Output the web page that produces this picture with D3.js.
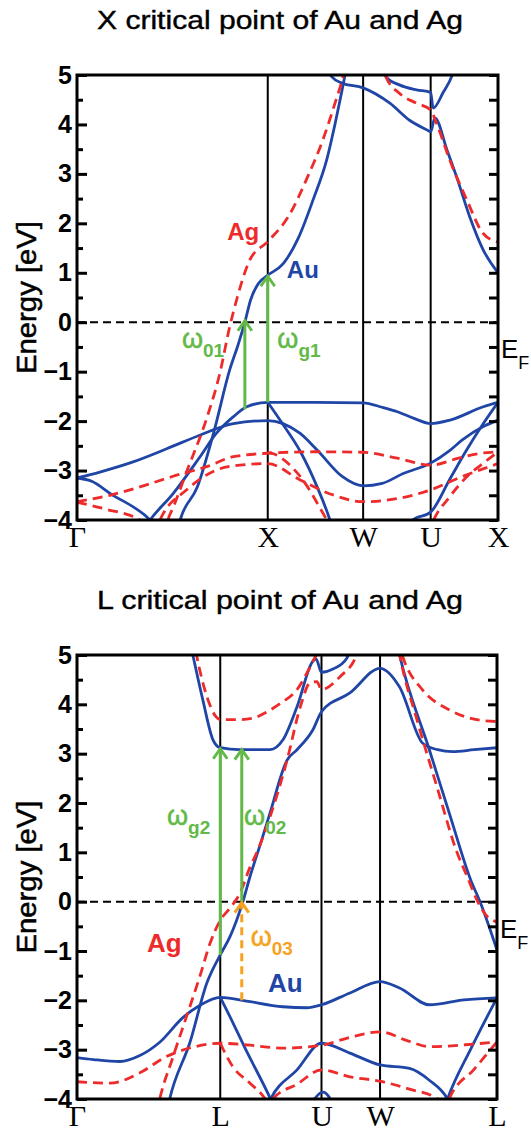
<!DOCTYPE html>
<html><head><meta charset="utf-8">
<script src="https://cdn.jsdelivr.net/npm/d3@7"></script>
<style>body{margin:0;background:#fff} svg{display:block}</style>
</head><body>
<svg id="c" width="531" height="1131"></svg>
<script>
// ---------- data ----------
const yTicks = [-4,-3,-2,-1,0,1,2,3,4,5];
const yMinorTicks = [-3.5,-2.5,-1.5,-0.5,0.5,1.5,2.5,3.5,4.5];
const topTitle = "X critical point of Au and Ag";
const botTitle = "L critical point of Au and Ag";
const topKLabels = ["Γ","X","W","U","X"];
const topKPos = [0,1,1.5,1.854,2.207];
const botKLabels = ["Γ","L","U","W","L"];
const botKPos = [0,0.866,1.478,1.832,2.539];

// top panel, Au (solid blue)
const topAuA = [[0,-3.15],[0.12,-3.03],[0.29,-2.83],[0.47,-2.56],[0.64,-2.29],[0.82,-2.05],[1.0,-1.99],[1.08,-2.05],[1.17,-2.25],[1.26,-2.59],[1.39,-3.12],[1.5,-3.31],[1.6,-3.26],[1.71,-3.06],[1.854,-2.85],[1.955,-2.59],[2.02,-2.38],[2.13,-2.11],[2.207,-1.98]];
const topAuGd = [[0,-3.15],[0.08,-3.22],[0.173,-3.46],[0.383,-4.0],[0.45,-4.3]];
const topAuB = [[0.33,-4.3],[0.383,-4.0],[0.505,-3.46],[0.645,-2.72],[0.73,-2.25],[0.82,-1.91],[0.89,-1.71],[1.0,-1.62],[1.25,-1.62],[1.5,-1.63],[1.6,-1.72],[1.68,-1.81],[1.77,-1.95],[1.854,-2.05],[1.955,-1.98],[2.13,-1.71],[2.207,-1.62]];
const topAuC = [[0.52,-4.3],[0.545,-3.95],[0.63,-3.34],[0.72,-2.18],[0.80,-0.97],[0.845,-0.45],[0.88,0.0],[0.91,0.45],[0.95,0.78],[1.0,0.95],[1.08,1.18],[1.16,1.7],[1.24,2.5],[1.31,3.3],[1.355,4.05],[1.39,4.7],[1.415,5.2],[1.43,5.5]];
const topAuD = [[1.30,5.3],[1.336,4.96],[1.387,4.84],[1.5,4.74],[1.64,4.43],[1.745,4.08],[1.834,3.89],[1.854,3.85],[1.876,4.13],[1.94,3.48],[1.99,2.94],[2.06,2.12],[2.13,1.46],[2.207,1.0]];
const topAuF = [[1.60,5.3],[1.62,4.96],[1.69,4.8],[1.78,4.7],[1.854,4.65],[1.867,4.33],[1.92,4.65],[1.97,5.03],[1.99,5.3]];
const topAuG = [[1.0,-1.62],[1.08,-2.07],[1.17,-2.61],[1.26,-3.34],[1.326,-4.0],[1.35,-4.3]];
const topAuH = [[1.74,-4.2],[1.76,-4.0],[1.854,-3.84],[1.955,-3.17],[2.04,-2.6],[2.13,-2.05],[2.207,-1.62]];

// top panel, Ag (dashed red)
const topAgSp = [[0.46,-4.3],[0.477,-4.0],[0.504,-3.75],[0.577,-3.0],[0.681,-1.93],[0.749,-1.03],[0.80,-0.1],[0.84,0.5],[0.906,1.26],[1.0,1.63],[1.11,2.15],[1.21,2.95],[1.29,3.7],[1.35,4.4],[1.394,4.96],[1.42,5.4]];
const topAg1 = [[0,-3.63],[0.173,-3.5],[0.33,-3.33],[0.50,-3.12],[0.68,-2.92],[0.82,-2.72],[1.0,-2.65],[1.25,-2.62],[1.5,-2.63],[1.68,-2.75],[1.854,-2.89],[2.0,-2.75],[2.1,-2.66],[2.207,-2.62]];
const topAg2 = [[0.41,-4.3],[0.435,-4.0],[0.575,-3.39],[0.73,-2.99],[0.854,-2.89],[1.0,-2.86],[1.17,-3.19],[1.34,-3.49],[1.5,-3.63],[1.69,-3.56],[1.854,-3.39],[2.02,-3.12],[2.207,-2.86]];
const topAgGd = [[0,-3.64],[0.15,-3.78],[0.33,-4.0],[0.4,-4.2]];
const topAgXd = [[1.0,-2.63],[1.03,-2.66],[1.17,-3.12],[1.31,-4.0],[1.34,-4.2]];
const topAgUx = [[1.84,-4.3],[1.87,-4.0],[1.95,-3.55],[2.05,-3.1],[2.13,-2.85],[2.207,-2.62]];
const topAgUp = [[1.60,5.3],[1.62,4.96],[1.69,4.63],[1.78,4.43],[1.854,4.29],[1.887,4.0],[1.955,3.27],[2.044,2.47],[2.128,1.8],[2.207,1.62]];

// bottom panel, Au
const botAuD1 = [[0,-3.16],[0.1,-3.2],[0.26,-3.24],[0.38,-3.12],[0.50,-2.85],[0.64,-2.35],[0.744,-2.1],[0.866,-1.94],[1.0,-2.0],[1.245,-2.13],[1.39,-2.15],[1.478,-2.09],[1.65,-1.85],[1.832,-1.62],[1.95,-1.75],[2.13,-2.09],[2.34,-1.99],[2.539,-1.95]];
const botAuLd = [[0.866,-1.94],[0.92,-2.3],[1.016,-2.97],[1.17,-4.0],[1.21,-4.3]];
const botAuToU = [[1.13,-4.3],[1.17,-4.0],[1.33,-3.41],[1.478,-2.87],[1.65,-3.07],[1.832,-3.31],[2.01,-3.38],[2.13,-3.62],[2.24,-4.0],[2.27,-4.2]];
const botAuLu = [[2.21,-4.3],[2.24,-4.0],[2.38,-2.99],[2.539,-1.95]];
const botAuUb = [[1.40,-4.2],[1.44,-3.98],[1.487,-3.86],[1.52,-3.94],[1.56,-4.2]];
const botAuSp = [[0.54,-4.3],[0.56,-4.0],[0.683,-2.85],[0.785,-1.65],[0.866,-1.08],[0.925,-0.71],[1.0,-0.03],[1.046,0.51],[1.107,1.15],[1.167,1.8],[1.27,2.87],[1.33,3.08],[1.427,3.49],[1.478,3.85],[1.65,4.23],[1.832,4.73],[1.95,4.35],[2.09,3.21],[2.18,3.08],[2.27,3.04],[2.4,3.08],[2.539,3.12]];
const botAuUp1 = [[0.68,5.3],[0.70,5.0],[0.76,4.1],[0.822,3.28],[0.866,3.12],[0.985,3.08],[1.167,3.08],[1.245,3.28],[1.33,3.95],[1.427,4.88],[1.445,4.92],[1.478,4.65],[1.55,4.72],[1.63,4.93],[1.66,5.2]];
const botAuSteep = [[1.93,5.3],[1.95,5.0],[2.13,3.08],[2.25,1.8],[2.38,0.44],[2.44,-0.03],[2.539,-0.98]];

// bottom panel, Ag
const botAgD1 = [[0,-3.65],[0.2,-3.68],[0.38,-3.47],[0.54,-3.14],[0.70,-2.95],[0.866,-2.87],[1.046,-2.91],[1.245,-2.97],[1.478,-2.91],[1.65,-2.75],[1.832,-2.64],[2.0,-2.82],[2.13,-2.94],[2.35,-2.9],[2.539,-2.84]];
const botAgLd = [[0.866,-2.87],[0.943,-3.35],[1.046,-3.68],[1.137,-4.0],[1.17,-4.2]];
const botAgToU = [[1.15,-4.3],[1.185,-4.0],[1.33,-3.7],[1.478,-3.41],[1.65,-3.55],[1.832,-3.64],[2.01,-3.8],[2.18,-4.0],[2.21,-4.2]];
const botAgLu = [[2.22,-4.3],[2.25,-4.0],[2.4,-3.4],[2.539,-2.84]];
const botAgSp = [[0.48,-4.3],[0.50,-4.0],[0.58,-3.15],[0.665,-2.3],[0.744,-1.5],[0.804,-0.85],[0.866,-0.38],[0.925,-0.13],[0.985,0.17],[1.046,0.7],[1.094,1.05],[1.167,1.72],[1.27,2.87],[1.35,3.95],[1.41,4.44],[1.45,4.46],[1.478,4.3],[1.59,4.56],[1.69,5.0],[1.72,5.3]];
const botAgUp1 = [[0.70,5.4],[0.725,4.96],[0.786,4.15],[0.84,3.75],[0.866,3.69],[0.985,3.69],[1.066,3.72],[1.15,3.85],[1.23,4.02],[1.33,4.3],[1.427,4.88],[1.46,5.1],[1.48,5.3]];
const botAgUp2 = [[1.94,5.3],[1.97,4.96],[2.09,4.29],[2.25,3.89],[2.4,3.7],[2.539,3.65]];
const botAgSteep = [[1.93,5.4],[1.953,4.97],[2.055,3.69],[2.176,2.33],[2.297,1.0],[2.36,0.5],[2.418,0.03],[2.48,-0.3],[2.539,-0.41]];

// transitions (k, from E, to E)
const topArrows = [[0.88,-1.76,0.05],[1.0,-1.62,0.95]];
const botArrows = [[0.866,-1.08,3.12],[0.996,0.0,3.1]];
const botDashedArrows = [[0.996,-2.0,0.0]];

// annotations: [text, subscript, k, E]
const topOmega = [["ω","01",0.55,-0.52],["ω","g1",1.05,-0.52]];
const botOmega = [["ω","g2",0.544,1.56],["ω","02",1.01,1.56]];
const botOmegaOrange = [["ω","03",1.05,-0.9]];
const topNames = [["Ag",0.955,1.66,"end"],["Au",1.10,0.89,"start"]];
const botNames = [["Ag",0.423,-1.02,"start"],["Au",1.155,-1.83,"start"]];

// ---------- drawing ----------
const RED="#ee2b2b", BLUE="#1f45a6", GREEN="#62b947", ORANGE="#f6a21e";
const FONT = "'Liberation Sans', Arial, sans-serif";
const svg = d3.select("#c");
const defs = svg.append("defs");

function panel(o){
  const x = d3.scaleLinear().domain([0, o.kPos[o.kPos.length-1]]).range([o.left,o.right]);
  const y = d3.scaleLinear().domain([-4,5]).range([o.bottom,o.top]);
  const g = svg.append("g");
  defs.append("clipPath").attr("id",o.id).append("rect")
    .attr("x",o.left).attr("y",o.top).attr("width",o.right-o.left).attr("height",o.bottom-o.top);

  // title
  svg.append("text").attr("x",o.titleX).attr("y",o.titleY).attr("text-anchor","middle")
    .attr("font-family",FONT).attr("font-size",26).attr("stroke","#000").attr("stroke-width",0.4)
    .attr("textLength",366).attr("lengthAdjust","spacingAndGlyphs")
    .text(o.title);
  // y-axis title
  svg.append("text").attr("transform",`translate(36,${(o.top+o.bottom)/2}) rotate(-90)`)
    .attr("text-anchor","middle").attr("font-family",FONT).attr("font-size",28)
    .attr("stroke","#000").attr("stroke-width",0.5)
    .attr("textLength",153).attr("lengthAdjust","spacingAndGlyphs").text("Energy [eV]");

  // high symmetry lines
  g.selectAll("line.v").data(o.kPos.slice(1,-1)).join("line").attr("class","v")
    .attr("x1",d=>x(d)).attr("x2",d=>x(d)).attr("y1",o.top).attr("y2",o.bottom)
    .attr("stroke","#000").attr("stroke-width",2);
  // Fermi level
  g.append("line").attr("x1",o.left).attr("x2",o.right).attr("y1",y(0)).attr("y2",y(0))
    .attr("stroke","#000").attr("stroke-width",2).attr("stroke-dasharray","8,5");

  const line = d3.line().x(d=>x(d[0])).y(d=>y(d[1])).curve(d3.curveMonotoneX);
  const bands = g.append("g").attr("clip-path",`url(#${o.id})`);
  bands.selectAll("path.au").data(o.au).join("path").attr("class","au").attr("d",line)
    .attr("fill","none").attr("stroke",BLUE).attr("stroke-width",2.8).attr("stroke-linejoin","round");
  bands.selectAll("path.ag").data(o.ag).join("path").attr("class","ag").attr("d",line)
    .attr("fill","none").attr("stroke",RED).attr("stroke-width",2.8).attr("stroke-dasharray","10,6");

  // arrows
  function arrow(a, color, dashed){
    const xx = x(a[0]), y0 = y(a[1]), y1 = y(a[2]);
    g.append("line").attr("x1",xx).attr("x2",xx).attr("y1",y0).attr("y2",y1+2)
      .attr("stroke",color).attr("stroke-width",3).attr("stroke-dasharray",dashed?"8,5":null);
    g.append("path").attr("d",`M${xx-7},${y1+11}L${xx},${y1+1}L${xx+7},${y1+11}`)
      .attr("fill","none").attr("stroke",color).attr("stroke-width",3).attr("stroke-linejoin","miter");
  }
  o.arrows.forEach(a=>arrow(a,GREEN,false));
  (o.dashedArrows||[]).forEach(a=>arrow(a,ORANGE,true));

  // omega labels
  function omega(d, color){
    const t = g.append("text").attr("x",x(d[2])).attr("y",y(d[3])).attr("fill",color)
      .attr("font-family",FONT);
    t.append("tspan").attr("font-size",27).attr("stroke",color).attr("stroke-width",0.5).text(d[0]);
    t.append("tspan").attr("font-size",19).attr("font-weight","bold").attr("dy",9).text(d[1]);
  }
  o.omega.forEach(d=>omega(d,GREEN));
  (o.omegaOrange||[]).forEach(d=>omega(d,ORANGE));

  // element names
  g.selectAll("text.nm").data(o.names).join("text").attr("class","nm")
    .attr("x",d=>x(d[1])).attr("y",d=>y(d[2])).attr("text-anchor",d=>d[3])
    .attr("fill",d=>d[0]==="Ag"?RED:BLUE).attr("font-family",FONT).attr("font-weight","bold")
    .attr("font-size",o.nameSize).text(d=>d[0]);

  // E_F
  const ef = g.append("text").attr("x",o.right+3).attr("y",y(0)+36).attr("font-family",FONT);
  ef.append("tspan").attr("font-size",26).text("E");
  ef.append("tspan").attr("font-size",18).attr("dy",11).text("F");

  // frame
  g.append("rect").attr("x",o.left).attr("y",o.top).attr("width",o.right-o.left).attr("height",o.bottom-o.top)
    .attr("fill","none").attr("stroke","#000").attr("stroke-width",3);

  // axes
  const styleTicks = s => { s.select(".domain").remove(); s.selectAll("line").attr("stroke","#000").attr("stroke-width",3); };
  g.append("g").attr("transform",`translate(${o.left},0)`)
    .call(d3.axisLeft(y).tickValues(yTicks).tickSize(-10).tickPadding(5).tickFormat(d3.format("d")))
    .call(styleTicks)
    .call(s=>s.selectAll("text").attr("font-family",FONT).attr("font-weight","bold").attr("font-size",25).attr("fill","#000"));
  g.append("g").attr("transform",`translate(${o.left},0)`)
    .call(d3.axisLeft(y).tickValues(yMinorTicks).tickSize(-6).tickFormat(""))
    .call(styleTicks);
  g.append("g").attr("transform",`translate(${o.right},0)`)
    .call(d3.axisRight(y).tickValues(yTicks.concat(yMinorTicks)).tickSize(-9).tickFormat(""))
    .call(styleTicks);
  g.append("g").attr("transform",`translate(0,${o.bottom})`)
    .call(d3.axisBottom(x).tickValues(o.kPos).tickSize(0).tickPadding(6).tickFormat((d,i)=>o.kLabels[i]))
    .call(s=>s.select(".domain").remove())
    .call(s=>s.selectAll("text").attr("font-family","'Liberation Serif', 'Times New Roman', serif").attr("font-size",30).attr("fill","#000"));
}

panel({id:"clipTop", left:77, right:498, top:75, bottom:520, kPos:topKPos, kLabels:topKLabels,
  title:topTitle, titleX:280, titleY:29,
  au:[topAuA,topAuGd,topAuB,topAuC,topAuD,topAuF,topAuG,topAuH],
  ag:[topAgSp,topAg1,topAg2,topAgGd,topAgXd,topAgUx,topAgUp],
  arrows:topArrows, omega:topOmega, names:topNames, nameSize:24});

panel({id:"clipBot", left:77, right:497, top:655, bottom:1099, kPos:botKPos, kLabels:botKLabels,
  title:botTitle, titleX:280, titleY:609,
  au:[botAuD1,botAuLd,botAuToU,botAuLu,botAuUb,botAuSp,botAuUp1,botAuSteep],
  ag:[botAgD1,botAgLd,botAgToU,botAgLu,botAgSp,botAgUp1,botAgUp2,botAgSteep],
  arrows:botArrows, dashedArrows:botDashedArrows, omega:botOmega, omegaOrange:botOmegaOrange,
  names:botNames, nameSize:26});
</script>
</body></html>
